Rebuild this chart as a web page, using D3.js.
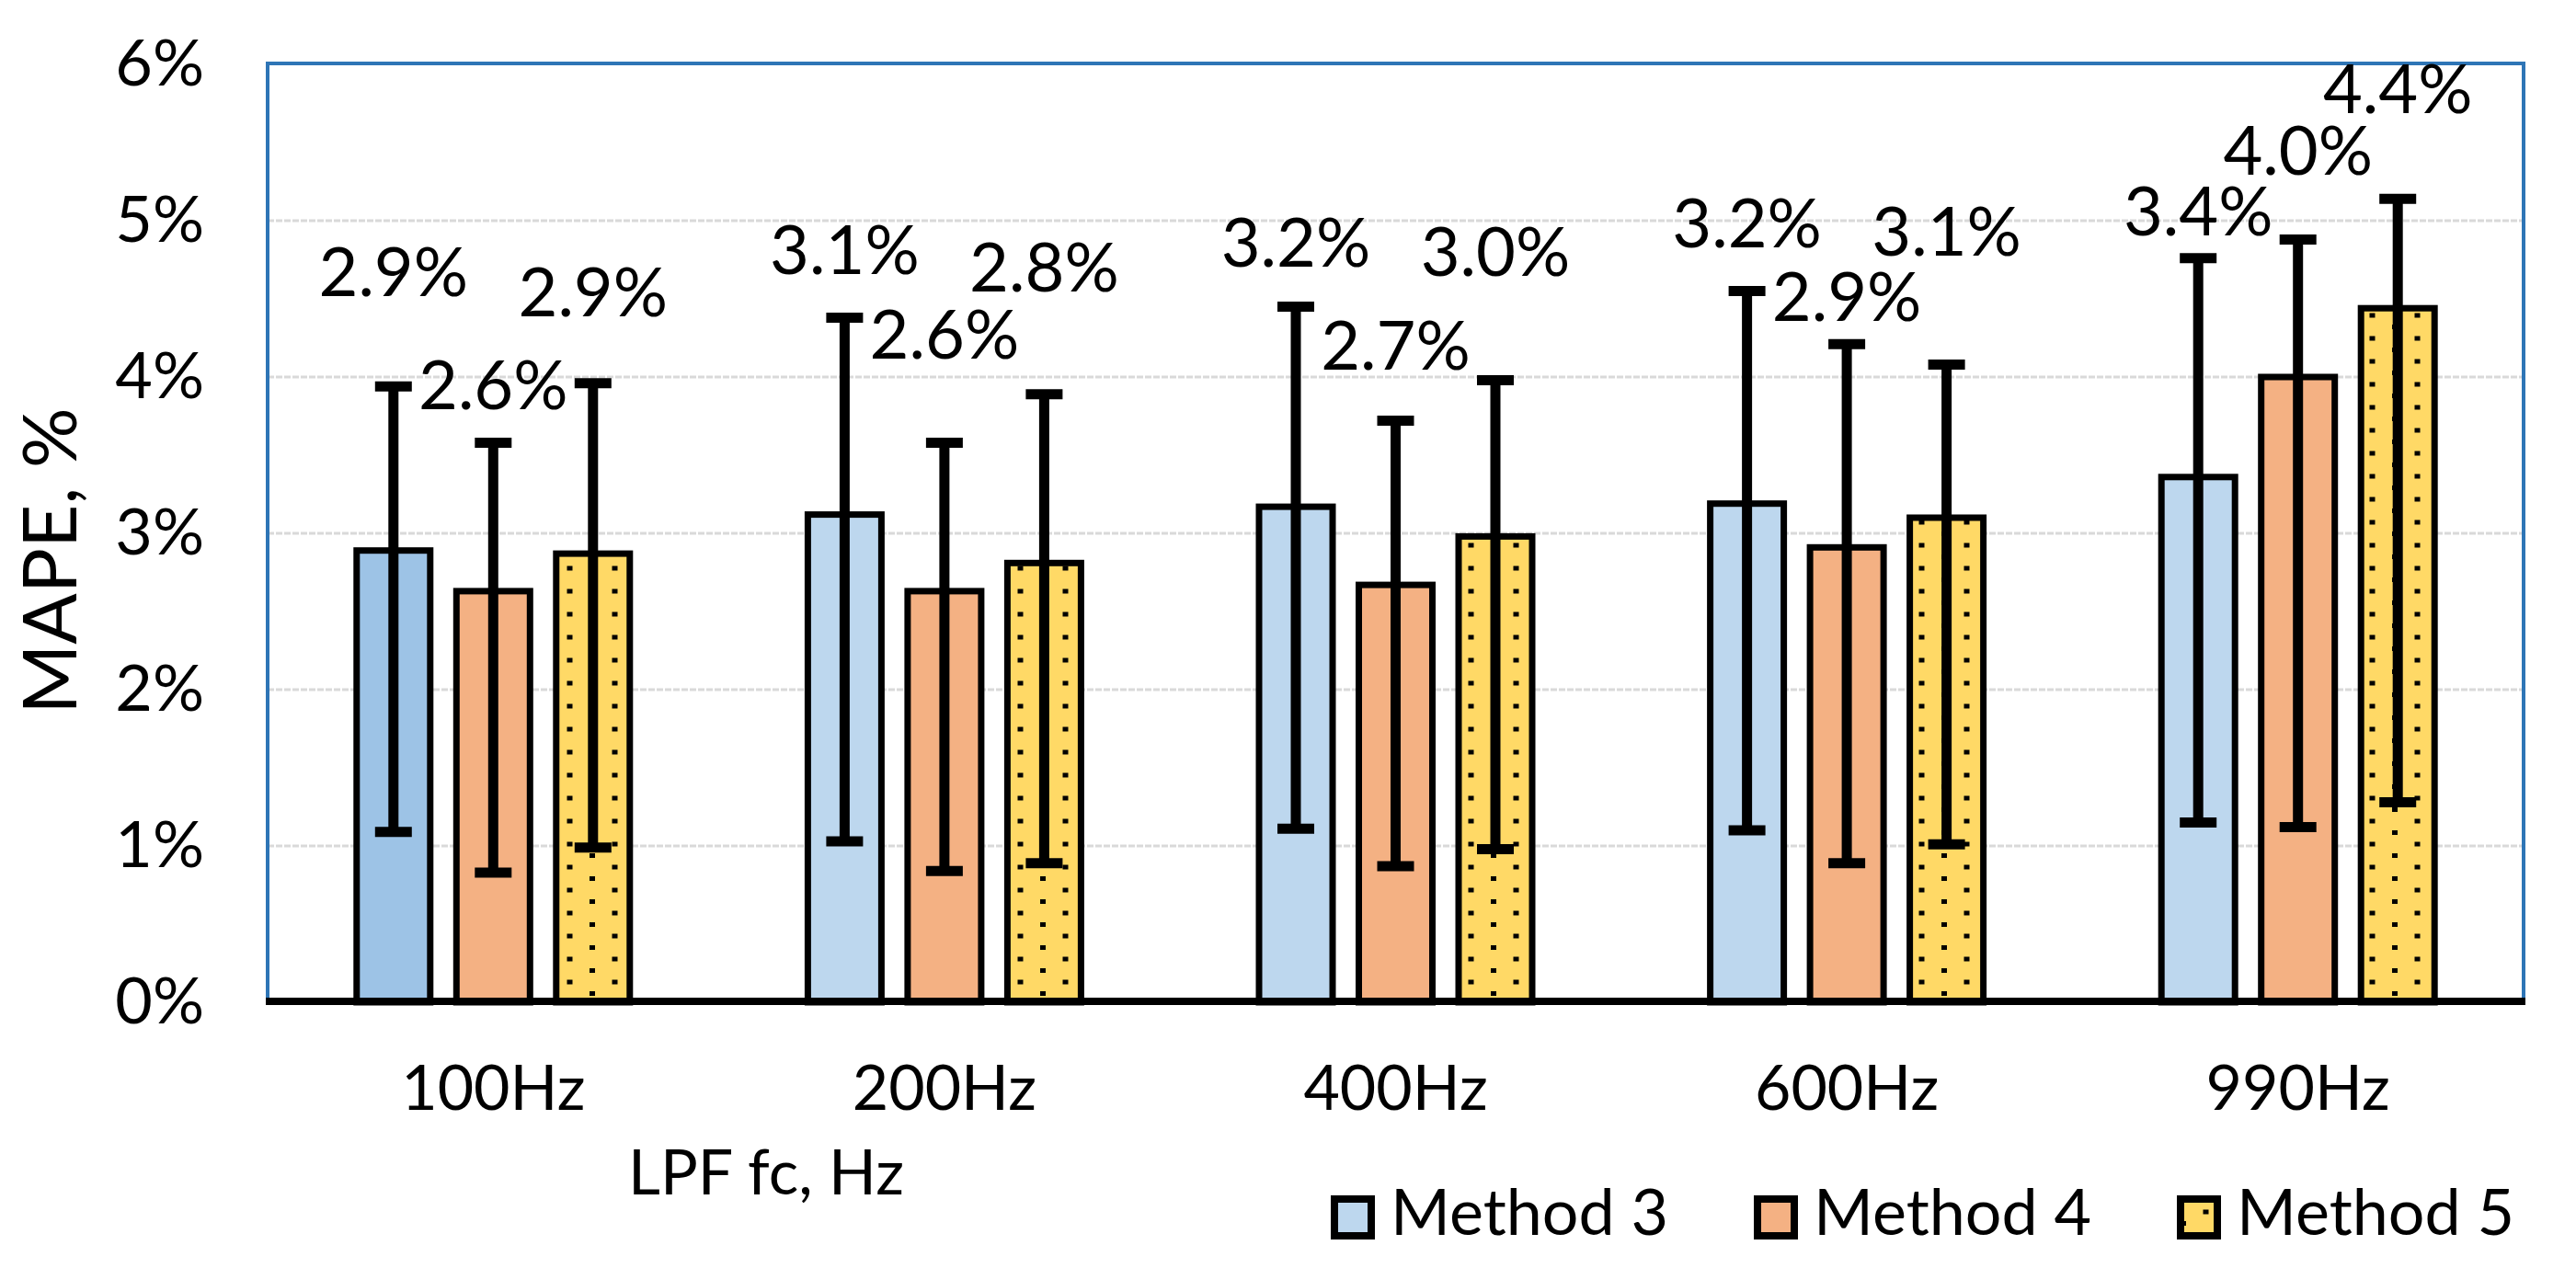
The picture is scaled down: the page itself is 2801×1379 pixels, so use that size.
<!DOCTYPE html>
<html>
<head>
<meta charset="utf-8">
<script src="https://cdn.jsdelivr.net/npm/d3@7"></script>
<style>
  html, body { margin: 0; padding: 0; background: #ffffff; }
  svg { display: block; }
  text { font-family: Lato, "Open Sans", sans-serif; fill: #000; }
</style>
</head>
<body>
<div id="chart"></div>
<script>
// ---------------- data ----------------
const categories = ["100Hz", "200Hz", "400Hz", "600Hz", "990Hz"];
const seriesNames = ["Method 3", "Method 4", "Method 5"];

const method3 = [2.89, 3.12, 3.17, 3.19, 3.36];
const method4 = [2.63, 2.63, 2.67, 2.91, 4.00];
const method5 = [2.87, 2.81, 2.98, 3.10, 4.44];

// error bar ends (absolute values, %)
const method3High = [3.94, 4.38, 4.45, 4.55, 4.76];
const method3Low  = [1.09, 1.03, 1.11, 1.10, 1.15];
const method4High = [3.58, 3.58, 3.72, 4.21, 4.88];
const method4Low  = [0.83, 0.84, 0.87, 0.89, 1.12];
const method5High = [3.96, 3.89, 3.98, 4.08, 5.14];
const method5Low  = [0.99, 0.89, 0.98, 1.01, 1.28];

// where each data label sits, in axis units (%)
const method3LabelAt = [4.67, 4.81, 4.86, 4.98, 5.06];
const method4LabelAt = [3.95, 4.27, 4.20, 4.51, 5.45];
const method5LabelAt = [4.54, 4.70, 4.80, 4.93, 5.84];

const yTicks = [0, 1, 2, 3, 4, 5, 6];
const yTitle = "MAPE, %";
const xTitle = "LPF fc, Hz";

// ---------------- layout / style ----------------
const W = 2801, H = 1379;
const plot = { left: 291, right: 2744, top: 70, bottom: 1090 };
const colors = ["#BDD7EE", "#F4B183", "#FFD966"];
const highlightFirst = "#9DC3E6"; // first Method 3 bar is a deeper blue

const values = [method3, method4, method5];
const highs = [method3High, method4High, method5High];
const lows = [method3Low, method4Low, method5Low];
const labelAt = [method3LabelAt, method4LabelAt, method5LabelAt];

const rows = [];
categories.forEach((c, ci) => {
  seriesNames.forEach((s, si) => {
    rows.push({
      cat: c, ci, series: s, si,
      value: values[si][ci],
      hi: highs[si][ci], lo: lows[si][ci],
      labelY: labelAt[si][ci]
    });
  });
});

const svg = d3.select("#chart").append("svg")
  .attr("width", W).attr("height", H)
  .attr("viewBox", `0 0 ${W} ${H}`);

// pattern for Method 5
const defs = svg.append("defs");
const pat = defs.append("pattern")
  .attr("id", "dots")
  .attr("patternUnits", "userSpaceOnUse")
  .attr("width", 49).attr("height", 25);
pat.append("rect").attr("width", 49).attr("height", 25).attr("fill", colors[2]);
pat.append("rect").attr("x", 4).attr("y", 3).attr("width", 6).attr("height", 5).attr("fill", "#000");
pat.append("rect").attr("x", 28.5).attr("y", 15.5).attr("width", 6).attr("height", 5).attr("fill", "#000");

const x0 = d3.scaleBand().domain(categories).range([plot.left, plot.right]).padding(0);
const slot = 108.5;
const x1 = d3.scaleBand().domain(seriesNames)
  .range([-1.5 * slot, 1.5 * slot]).padding(0);
const y = d3.scaleLinear().domain([0, 6]).range([plot.bottom, plot.top]);

const barW = 80;
const cx = d => x0(d.cat) + x0.bandwidth() / 2 + x1(d.series) + x1.bandwidth() / 2;
const fillOf = d => d.si === 2 ? "url(#dots)" : (d.si === 0 && d.ci === 0 ? highlightFirst : colors[d.si]);

// gridlines
svg.append("g").selectAll("line")
  .data(yTicks.filter(t => t > 0 && t < 6))
  .join("line")
  .attr("x1", plot.left).attr("x2", plot.right)
  .attr("y1", d => y(d)).attr("y2", d => y(d))
  .attr("stroke", "#d9d9d9").attr("stroke-width", 3)
  .attr("stroke-dasharray", "7,2");

// bars
svg.append("g").selectAll("rect")
  .data(rows)
  .join("rect")
  .attr("x", d => cx(d) - barW / 2)
  .attr("width", barW)
  .attr("y", d => y(d.value))
  .attr("height", d => y(0) - y(d.value))
  .attr("fill", fillOf)
  .attr("stroke", "#000")
  .attr("stroke-width", 7);

// error bars
const eb = svg.append("g").attr("stroke", "#000").attr("stroke-width", 11);
eb.selectAll("line.v").data(rows).join("line").attr("class", "v")
  .attr("x1", cx).attr("x2", cx)
  .attr("y1", d => y(d.hi)).attr("y2", d => y(d.lo));
eb.selectAll("line.ch").data(rows).join("line").attr("class", "ch")
  .attr("x1", d => cx(d) - 20).attr("x2", d => cx(d) + 20)
  .attr("y1", d => y(d.hi)).attr("y2", d => y(d.hi));
eb.selectAll("line.cl").data(rows).join("line").attr("class", "cl")
  .attr("x1", d => cx(d) - 20).attr("x2", d => cx(d) + 20)
  .attr("y1", d => y(d.lo)).attr("y2", d => y(d.lo));

// frame (left, top, right in blue)
svg.append("path")
  .attr("d", `M${plot.left},${plot.bottom} L${plot.left},${plot.top - 1} L${plot.right},${plot.top - 1} L${plot.right},${plot.bottom}`)
  .attr("fill", "none").attr("stroke", "#2E75B6").attr("stroke-width", 4);

// x axis line
svg.append("line")
  .attr("x1", plot.left - 2).attr("x2", plot.right + 2)
  .attr("y1", y(0) - 1).attr("y2", y(0) - 1)
  .attr("stroke", "#000").attr("stroke-width", 8);

// y axis labels
const yAxis = svg.append("g")
  .attr("transform", `translate(${plot.left},0)`)
  .call(d3.axisLeft(y).tickValues(yTicks).tickFormat(d => d + "%").tickSize(0).tickPadding(69));
yAxis.select(".domain").remove();
yAxis.selectAll("text").style("font-family", "Lato, 'Open Sans', sans-serif")
  .style("font-size", "70px").attr("fill", "#000");

// x axis labels
const xAxis = svg.append("g")
  .attr("transform", `translate(0,${plot.bottom})`)
  .call(d3.axisBottom(x0).tickSize(0).tickPadding(69));
xAxis.select(".domain").remove();
xAxis.selectAll("text").style("font-family", "Lato, 'Open Sans', sans-serif")
  .style("font-size", "68px").attr("fill", "#000");

// data labels
svg.append("g").selectAll("text")
  .data(rows)
  .join("text")
  .attr("x", cx)
  .attr("y", d => y(d.labelY) + 26)
  .attr("text-anchor", "middle")
  .style("font-size", "74px")
  .text(d => d3.format(".1f")(d.value) + "%");

// axis titles
svg.append("text")
  .attr("transform", `translate(83,${(y(0) + y(6)) / 2 + 30}) rotate(-90)`)
  .attr("text-anchor", "middle")
  .style("font-size", "82px")
  .text(yTitle);

svg.append("text")
  .attr("x", 683).attr("y", 1299)
  .style("font-size", "68px")
  .text(xTitle);

// legend
const legend = svg.append("g");
const legX = 1447, legStep = 460, legY = 1300, box = 44;
seriesNames.forEach((s, i) => {
  const g = legend.append("g").attr("transform", `translate(${legX + i * legStep},${legY})`);
  g.append("rect")
    .attr("x", 4).attr("y", 4).attr("width", box - 4).attr("height", box - 4)
    .attr("fill", i === 2 ? "url(#dots)" : colors[i])
    .attr("stroke", "#000").attr("stroke-width", 8);
  g.append("text")
    .attr("x", 65).attr("y", 43)
    .style("font-size", "70px")
    .text(s);
});
</script>
</body>
</html>
